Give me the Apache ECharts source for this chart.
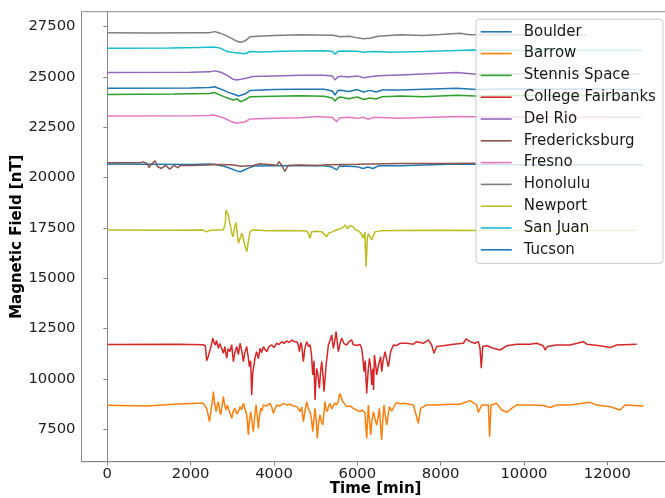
<!DOCTYPE html>
<html>
<head>
<meta charset="utf-8">
<script src="https://cdn.jsdelivr.net/npm/echarts@6/dist/echarts.min.js"></script>
<style>
html,body{margin:0;padding:0;background:#fff;}
#chart{width:665px;height:498px;}
</style>
</head>
<body>
<div id="chart"></div>
<script>
// ---- data (time in minutes, field in nT) ----
const stationNames = ["Boulder","Barrow","Stennis Space","College Fairbanks","Del Rio","Fredericksburg","Fresno","Honolulu","Newport","San Juan","Tucson"];
const xTicks = [0,2000,4000,6000,8000,10000,12000];
const yTicks = [7500,10000,12500,15000,17500,20000,22500,25000,27500];

const boulderT = [0,2000,2450,2600,2800,2945,3100,3185,3260,3400,3530,4000,4630,5200,5370,5505,5570,5800,6000,6140,6250,6380,6500,7025,8385,9500,10500,12850];
const boulderV = [20670,20650,20670,20650,20560,20460,20330,20290,20350,20480,20577,20590,20600,20590,20540,20380,20570,20560,20530,20450,20520,20450,20580,20590,20676,20650,20640,20640];

const barrowT = [0,950,1670,2225,2305,2345,2385,2420,2450,2480,2505,2525,2545,2575,2610,2640,2665,2690,2720,2750,2785,2815,2850,2880,2905,2945,2985,3025,3065,3105,3145,3185,3225,3265,3305,3345,3365,3385,3410,3440,3470,3505,3535,3570,3600,3625,3650,3680,3710,3745,3820,3905,3945,3985,4025,4065,4140,4225,4300,4385,4460,4545,4590,4625,4665,4705,4745,4785,4825,4865,4900,4930,4960,4985,5010,5040,5070,5105,5135,5170,5200,5225,5250,5280,5310,5345,5385,5425,5465,5505,5545,5585,5625,5650,5700,5745,5820,5905,5980,6065,6120,6185,6205,6225,6245,6265,6290,6320,6350,6385,6425,6465,6500,6530,6560,6585,6610,6640,6670,6705,6740,6770,6820,6865,6900,6945,7020,7105,7345,7385,7465,7520,7665,7905,8225,8465,8705,8865,8905,8985,9145,9175,9210,9345,9465,9585,9705,9825,10145,10465,10625,10785,11105,11585,11745,12065,12305,12425,12865];
const barrowV = [8690,8650,8750,8780,8780,8700,8533,8200,7870,8300,8700,8900,9360,8800,8367,8700,8864,8500,8201,8600,9110,8700,8450,8700,8533,8300,8036,8400,8533,8250,8367,8616,8450,8780,8500,8201,7800,7207,7900,8367,7900,7373,8100,8700,8100,7539,8100,8533,8400,8700,8650,8780,8600,8284,8500,8700,8650,8780,8700,8733,8650,8616,8500,8367,8600,7870,8400,8864,8500,8367,8000,7373,8000,8533,8000,7042,7800,8201,7900,7704,8300,8864,8500,8367,8650,8780,8500,8533,8800,8700,8900,9275,9360,8864,8750,8616,8650,8533,8450,8367,8450,8284,7600,7040,7900,8700,8000,7207,7900,8367,8000,7704,8100,8533,7600,6960,7900,8700,8200,7704,8200,8616,8400,8533,8700,8830,8750,8780,8700,8700,7787,8533,8700,8700,8733,8733,8914,8700,8330,8700,8700,7124,8700,8780,8450,8330,8533,8700,8700,8670,8570,8700,8700,8830,8700,8616,8450,8700,8650];

const stennisT = [0,1600,2450,2580,2650,2800,2950,3025,3050,3100,3150,3200,3300,3425,4000,4630,5200,5400,5465,5530,5590,5800,6000,6150,6300,6450,6600,7025,7580,8385,8820,9500,10500,12430];
const stennisV = [24130,24150,24180,24220,24150,24020,23900,23850,23800,23900,23850,23770,23850,24020,24040,24060,24040,23950,23800,23950,24000,23920,24000,23880,23950,23900,24020,24050,24020,24090,24050,24070,24070,24070];

const collegeT = [0,1700,2300,2350,2385,2420,2465,2500,2530,2560,2590,2620,2665,2700,2745,2785,2820,2865,2900,2945,2985,3025,3060,3105,3145,3185,3225,3265,3300,3345,3380,3410,3440,3465,3490,3520,3550,3585,3625,3665,3705,3745,3785,3825,3880,3945,4000,4065,4120,4185,4240,4305,4360,4425,4480,4545,4580,4610,4640,4665,4705,4740,4785,4830,4865,4900,4930,4960,4985,5005,5025,5060,5090,5120,5145,5175,5200,5225,5250,5280,5305,5345,5385,5425,5460,5490,5520,5545,5590,5625,5680,5745,5800,5865,5900,5945,5985,6025,6065,6105,6135,6160,6190,6225,6260,6290,6320,6345,6370,6390,6410,6440,6465,6500,6530,6560,6585,6620,6665,6700,6745,6775,6800,6830,6865,6940,7025,7185,7345,7425,7585,7705,7785,7840,7905,8065,8305,8545,8610,8705,8825,8905,8945,8975,9010,9105,9265,9425,9585,9825,10145,10305,10465,10505,10560,10785,11105,11425,11505,11825,12065,12225,12705];
const collegeV = [11700,11710,11690,11650,10900,11100,11430,11700,12015,11800,11680,11900,11515,11750,11845,11270,11600,11020,11500,11350,11700,10850,11300,11600,11200,11765,11400,10850,11300,11600,11100,10600,10900,9195,10300,10686,11100,11350,11000,11515,11300,11600,11450,11350,11600,11680,11550,11765,11700,11845,11760,11880,11800,11930,11850,11845,11700,11350,11800,11680,10850,11500,11845,11600,11700,11200,10189,10900,8947,9900,10520,10100,9527,10400,10850,10200,9360,10000,10686,11200,11680,11900,12178,11515,11900,12340,11800,11350,11800,12015,11750,11680,11850,11930,11700,11765,11650,11600,11700,11515,11000,10355,10900,9275,10400,11020,10600,9692,10500,9444,11183,10700,10189,10600,10850,11100,10355,10900,11350,11000,10600,11000,11350,11500,11680,11650,11765,11765,11720,11845,11765,11930,11680,11270,11600,11640,11720,11765,11980,11845,11765,11845,11515,10520,11600,11640,11515,11430,11640,11720,11720,11765,11640,11430,11600,11680,11680,11845,11720,11640,11550,11680,11720];

const delRioT = [0,2000,2450,2580,2650,2740,2900,3000,3100,3200,3300,3500,4000,4630,5200,5400,5465,5530,5590,5800,6000,6150,6300,6500,7025,8385,8860,9500,10500,11500,12780];
const delRioV = [25220,25230,25250,25300,25270,25220,25050,24900,24850,24880,24920,25015,25050,25085,25080,25050,24850,25000,25030,24990,25050,24960,25010,25060,25100,25215,25130,25150,25160,25150,25150];

const fredT = [0,800,860,950,1000,1050,1145,1200,1300,1400,1500,1600,1700,1745,2000,2390,2600,3000,3200,3500,3665,4070,4120,4190,4260,4340,4600,5000,5300,6000,7000,8000,8850];
const fredV = [20740,20740,20780,20700,20500,20650,20830,20550,20450,20600,20420,20600,20480,20600,20600,20620,20650,20640,20560,20600,20680,20610,20790,20600,20300,20600,20620,20600,20640,20660,20700,20700,20710];

const fresnoT = [0,2000,2450,2540,2650,2800,2950,3105,3200,3300,3425,4000,4630,5060,5400,5505,5570,5800,6000,6140,6250,6400,7025,8385,9500,10500,12850];
const fresnoV = [23060,23070,23080,23110,23060,22960,22800,22700,22740,22760,22910,22950,22975,23030,22980,22780,22960,22990,22940,23000,22900,22990,22945,23030,23000,23010,23000];

const honoluluT = [0,1000,2000,2450,2580,2650,2800,2950,3100,3190,3300,3425,3600,4000,4630,5000,5420,5590,5800,6000,6140,6300,6500,7025,7580,8000,8465,8700,9500,10500,11500];
const honoluluV = [27190,27180,27195,27200,27250,27210,27100,26950,26780,26725,26780,26990,27020,27060,27090,27080,27070,27000,27020,26940,26900,26920,27020,27100,27060,27110,27170,27090,27110,27100,27100];

const newportT = [0,1500,2300,2385,2450,2600,2785,2830,2850,2880,2905,2930,2960,2990,3020,3050,3090,3120,3150,3190,3230,3270,3310,3350,3390,3425,3500,3825,4300,4790,4830,4865,4900,5000,5150,5265,5320,5400,5500,5650,5705,5760,5820,5900,5950,6000,6080,6145,6180,6210,6240,6265,6345,6425,6550,7025,8000,9000,10500,12730];
const newportV = [17390,17380,17390,17300,17370,17390,17400,17700,18390,18250,18140,17800,17560,17200,17060,17500,17760,17200,16735,17000,17230,16900,16570,16320,16900,17310,17400,17350,17370,17340,17200,16985,17290,17330,17300,17065,17250,17300,17390,17500,17645,17450,17600,17560,17400,17380,17250,16985,17300,15570,17000,17200,16900,17300,17350,17365,17380,17370,17370,17370];

const sanJuanT = [0,1500,2200,2580,2700,2800,2900,3025,3200,3300,3425,3700,4200,4630,5200,5400,5465,5530,5590,6000,6150,6400,6785,7580,8780,9500,10500,11500,12850];
const sanJuanV = [26430,26440,26460,26480,26440,26330,26250,26210,26180,26150,26260,26240,26280,26290,26300,26270,26130,26260,26290,26270,26220,26260,26225,26260,26340,26320,26330,26330,26320];

const tucsonT = [0,2000,2450,2580,2650,2800,2900,3025,3150,3300,3425,4000,4630,5200,5400,5465,5530,5600,5800,6000,6150,6300,6450,6600,7025,8385,8860,9500,10500,11500,12850];
const tucsonV = [24440,24450,24470,24510,24450,24330,24230,24150,24050,24150,24320,24370,24390,24390,24300,24100,24320,24340,24270,24370,24250,24330,24250,24350,24350,24440,24380,24400,24400,24400,24380];

const seriesT = [boulderT,barrowT,stennisT,collegeT,delRioT,fredT,fresnoT,honoluluT,newportT,sanJuanT,tucsonT];
const seriesV = [boulderV,barrowV,stennisV,collegeV,delRioV,fredV,fresnoV,honoluluV,newportV,sanJuanV,tucsonV];
const colors = ["#1f77b4","#ff7f0e","#2ca02c","#d62728","#9467bd","#8c564b","#e377c2","#7f7f7f","#bcbd22","#17becf","#1f77b4"];

// ---- chart ----
const FONT = "DejaVu Sans";
const FS = 14.8;
const chart = echarts.init(document.getElementById('chart'), null, {renderer:'canvas'});
const series = stationNames.map((name, i) => ({
  name: name,
  type: 'line',
  data: seriesT[i].map((t, k) => [t, seriesV[i][k]]),
  symbol: 'none',
  showSymbol: false,
  lineStyle: {width: 1.5, color: colors[i]},
  itemStyle: {color: colors[i]},
  emphasis: {disabled: true},
  animation: false
}));

chart.setOption({
  backgroundColor: '#fff',
  animation: false,
  grid: {left: 81.5, top: 11.7, right: -4.8, bottom: 36.3, outerBoundsMode: 'none', containLabel: false,
         show: true, borderColor: '#888', borderWidth: 1, backgroundColor: 'transparent'},
  xAxis: {
    type: 'value', min: -620, max: 13500,
    name: 'Time [min]', nameLocation: 'middle', nameGap: 20, nameMoveOverlap: false,
    nameTextStyle: {fontFamily: FONT, fontSize: 15, fontWeight: 'bold', color: '#000'},
    axisLine: {show: true, lineStyle: {color: '#888', width: 1}},
    axisTick: {show: true, length: 4, lineStyle: {color: '#888'}, customValues: xTicks},
    axisLabel: {fontFamily: FONT, fontSize: FS, color: '#222', margin: 5, customValues: xTicks,
                formatter: v => String(v)},
    splitLine: {show: false}
  },
  yAxis: {
    type: 'value', min: 5880, max: 28240,
    name: 'Magnetic Field [nT]', nameLocation: 'middle', nameGap: 57, nameMoveOverlap: false,
    nameTextStyle: {fontFamily: FONT, fontSize: 15, fontWeight: 'bold', color: '#000'},
    axisLine: {show: true, lineStyle: {color: '#888', width: 1}},
    axisTick: {show: true, length: 4, lineStyle: {color: '#888'}, customValues: yTicks},
    axisLabel: {fontFamily: FONT, fontSize: FS, color: '#222', margin: 6, customValues: yTicks,
                formatter: v => String(v)},
    splitLine: {show: false}
  },
  legend: {
    data: stationNames,
    orient: 'vertical',
    left: 476, top: 19.3,
    padding: [5, 7, 6, 4.7],
    icon: 'rect',
    itemWidth: 31, itemHeight: 1.6, itemGap: 6.8,
    backgroundColor: 'rgba(255,255,255,0.8)',
    borderColor: '#ccc', borderWidth: 1, borderRadius: 3,
    textStyle: {fontFamily: FONT, fontSize: 15, color: '#1a1a1a', lineHeight: 15, padding: [0, 0, 0, 7]},
    selectedMode: false
  },
  series: series
});
</script>
</body>
</html>
